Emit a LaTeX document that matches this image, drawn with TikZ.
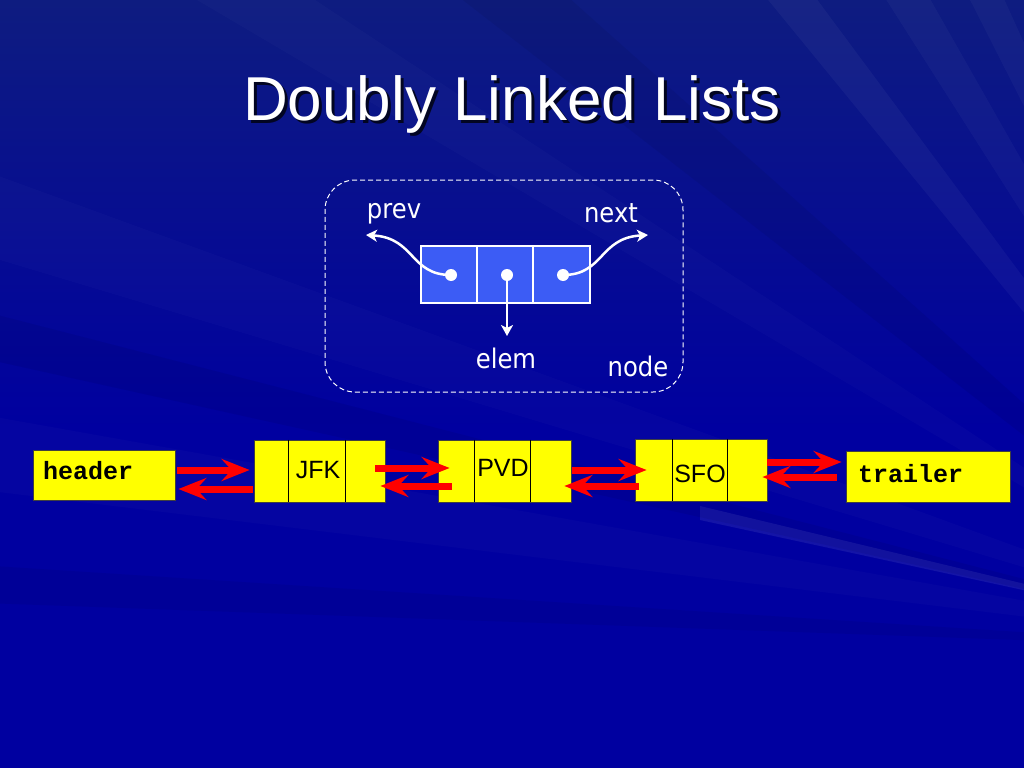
\documentclass[tikz,border=0pt]{standalone}
\usepackage{fontspec}
\setmainfont{Liberation Sans}
\newfontfamily\vfont[FakeStretch=0.9]{DejaVu Sans}
\newfontfamily\cfont{Liberation Mono}
\usetikzlibrary{arrows.meta,calc}
\definecolor{bgbase}{RGB}{0,0,160}
\definecolor{bgtop}{RGB}{14,28,128}
\definecolor{cellblue}{RGB}{60,92,245}
\definecolor{yel}{RGB}{255,255,0}
\definecolor{arrred}{RGB}{255,0,0}
\tikzset{
  ybox/.style={draw=black!75,line width=0.8pt,fill=yel,inner sep=0pt},
  divider/.style={draw=black,line width=0.9pt},
  celltext/.style={font=\fontsize{25}{30}\selectfont,text=black,inner sep=0pt},
  monotext/.style={font=\cfont\bfseries\fontsize{25}{30}\selectfont,text=black,inner sep=0pt,anchor=west},
  redarr/.style={draw=arrred,line width=7pt,-{Stealth[length=28pt,width=22pt,inset=10pt]}},
  whitearr/.style={draw=white,line width=2.5pt,-{Stealth[length=11pt,width=12pt,inset=3pt]}},
  dotnode/.style={circle,fill=white,inner sep=0pt,minimum size=12pt},
  lbl/.style={font=\vfont\fontsize{27}{32}\selectfont,text=white,inner sep=0pt},
  ray/.style={fill=white,opacity=#1},
  darkray/.style={fill=black,opacity=#1}
}
\begin{document}
\begin{tikzpicture}[x=1pt,y=-1pt]
\useasboundingbox (0,0) rectangle (1024,768);
% background
\fill[bgbase] (0,0) rectangle (1024,768);
\shade[top color=bgtop,bottom color=bgbase] (0,0) rectangle (1024,430);
\coordinate (C) at (1300,650);
\begin{scope}
\clip (0,0) rectangle (1024,768);
\fill[ray=0.08] (C) -- (700,506) -- (700,520) -- cycle;
\fill[ray=0.04] (C) -- (760,-10) -- (810,-10) -- cycle;
\fill[ray=0.03] (C) -- (880,-10) -- (925,-10) -- cycle;
\fill[ray=0.03] (C) -- (965,-10) -- (1000,-10) -- cycle;
\fill[ray=0.02] (C) -- (-100,140) -- (-100,230) -- cycle;
\fill[ray=0.02] (C) -- (180,-10) -- (300,-10) -- cycle;
\fill[ray=0.02] (C) -- (-100,400) -- (-100,480) -- cycle;
\fill[darkray=0.06] (C) -- (-100,290) -- (-100,340) -- cycle;
\fill[darkray=0.06] (C) -- (450,-10) -- (560,-10) -- cycle;
\fill[darkray=0.05] (C) -- (-100,560) -- (-100,600) -- cycle;
\end{scope}
% title
\node[font=\fontsize{62}{70}\selectfont,text=black,opacity=0.75,anchor=base,inner sep=0pt] at (515,123) {Doubly Linked Lists};
\node[font=\fontsize{62}{70}\selectfont,text=white,anchor=base,inner sep=0pt] (title) at (512,120) {Doubly Linked Lists};
% node diagram
\node[draw=white,dash pattern=on 5pt off 3pt,line width=1pt,rounded corners=30pt,minimum width=358pt,minimum height=212pt,inner sep=0pt] (frame) at (504,286) {};
\node[draw=white,line width=2pt,fill=cellblue,minimum width=169pt,minimum height=57pt,inner sep=0pt] (cells) at (505.5,274.5) {};
\draw[white,line width=2pt] ([xshift=57pt]cells.north west) -- ([xshift=57pt]cells.south west);
\draw[white,line width=2pt] ([xshift=113pt]cells.north west) -- ([xshift=113pt]cells.south west);
\node[dotnode] (pd) at (451,275) {};
\node[dotnode] (ed) at (507,275) {};
\node[dotnode] (nd) at (563,275) {};
\node[lbl] (prev) at (394,214) {prev};
\node[lbl] (next) at (611,213) {next};
\node[lbl] (elem) at (506,358) {elem};
\node[lbl] (nodel) at (638,366) {node};
\coordinate (ptip) at (366,235);
\coordinate (ntip) at (648,235);
\draw[whitearr] (pd.center) .. controls (410,275) and (415,238) .. (ptip);
\draw[whitearr] (nd.center) .. controls (604,275) and (599,238) .. (ntip);
\draw[whitearr] (ed.center) -- ([yshift=-61pt]ed.center);
% list
\node[ybox,minimum width=142pt,minimum height=50pt] (header) at (104,475) {};
\node[monotext] (headert) at (43,471) {header};
\node[ybox,minimum width=131pt,minimum height=62pt] (jfk) at (319.5,471) {};
\draw[divider] ([xshift=35pt]jfk.north west) -- ([xshift=35pt]jfk.south west);
\draw[divider] ([xshift=-40pt]jfk.north east) -- ([xshift=-40pt]jfk.south east);
\node[celltext] (jfkt) at (318,470) {JFK};
\node[ybox,minimum width=133pt,minimum height=62pt] (pvd) at (504.5,471) {};
\draw[divider] ([xshift=37pt]pvd.north west) -- ([xshift=37pt]pvd.south west);
\draw[divider] ([xshift=-41pt]pvd.north east) -- ([xshift=-41pt]pvd.south east);
\node[celltext] (pvdt) at (503,468) {PVD};
\node[ybox,minimum width=132pt,minimum height=62pt] (sfo) at (701,470) {};
\draw[divider] ([xshift=38pt]sfo.north west) -- ([xshift=38pt]sfo.south west);
\draw[divider] ([xshift=-40pt]sfo.north east) -- ([xshift=-40pt]sfo.south east);
\node[celltext] (sfot) at (700,474) {SFO};
\node[ybox,minimum width=164pt,minimum height=51pt] (trailer) at (928,476.5) {};
\node[monotext] (trailert) at (858,474) {trailer};
% red arrows
\draw[redarr] ([xshift=2pt,yshift=5pt]header.east) -- ([xshift=-4pt,yshift=1pt]jfk.west);
\draw[redarr] ([xshift=-1pt,yshift=-18pt]jfk.west) -- ([xshift=3pt,yshift=-14pt]header.east);
\draw[redarr] ([xshift=-10pt,yshift=3pt]jfk.east) -- ([xshift=12pt,yshift=3pt]pvd.west);
\draw[redarr] ([xshift=14pt,yshift=-15pt]pvd.west) -- ([xshift=-5pt,yshift=-15pt]jfk.east);
\draw[redarr] ([xshift=1pt,yshift=1pt]pvd.east) -- ([xshift=12pt,yshift=0pt]sfo.west);
\draw[redarr] ([xshift=4pt,yshift=-16pt]sfo.west) -- ([xshift=-7pt,yshift=-15pt]pvd.east);
\draw[redarr] ([yshift=8pt]sfo.east) -- ([xshift=-4pt,yshift=14.5pt]trailer.west);
\draw[redarr] ([xshift=-9pt,yshift=-0.5pt]trailer.west) -- ([xshift=-5pt,yshift=-7pt]sfo.east);
\end{tikzpicture}
\end{document}
